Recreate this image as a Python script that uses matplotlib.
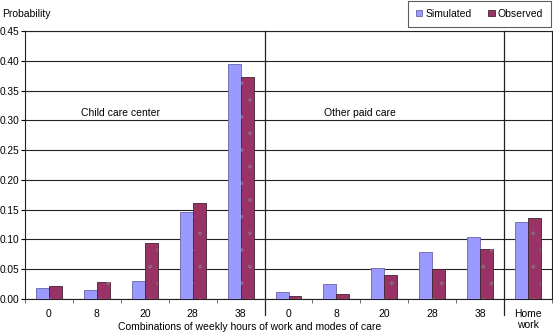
import matplotlib
matplotlib.use("Agg")
import matplotlib.pyplot as plt
import numpy as np

plt.rcParams['font.family'] = ['Liberation Sans', 'DejaVu Sans']
plt.rcParams['hatch.linewidth'] = 0.3

categories = ["0", "8", "20", "28", "38", "0", "8", "20", "28", "38", "Home\nwork"]
simulated = [0.018, 0.015, 0.030, 0.146, 0.394, 0.012, 0.025, 0.052, 0.079, 0.104, 0.129]
observed = [0.021, 0.028, 0.094, 0.162, 0.373, 0.005, 0.008, 0.041, 0.050, 0.084, 0.136]
yticks = [0.00, 0.05, 0.10, 0.15, 0.20, 0.25, 0.30, 0.35, 0.40, 0.45]

fig = plt.figure(figsize=(5.53, 3.36), dpi=100)
ax = fig.add_axes([25/553, 1-299/336, 527/553, (299-31)/336])

x = np.arange(len(categories))
w = 0.27
sim_c = '#9999FF'
obs_c = '#993366'
ax.bar(x - w/2, simulated, w, color=sim_c, edgecolor='#6666aa', linewidth=0.6, zorder=3, label='Simulated')
ax.bar(x + w/2, observed, w, color=obs_c, edgecolor='#442233', linewidth=0.6, zorder=3, label='Observed')
ax.bar(x + w/2, observed, w, facecolor='none', edgecolor='#8a6680', linewidth=0, hatch='.', zorder=3.5)

ax.set_xlim(-0.5, len(categories) - 0.5)
ax.set_ylim(0, 0.45)
ax.set_yticks(yticks)
ax.set_yticklabels([f"{v:.2f}" for v in yticks])
ax.yaxis.grid(True, color='#222222', linewidth=0.8, zorder=0)
ax.set_axisbelow(True)

ax.set_xticks(x)
ax.set_xticklabels(categories)
ax.set_xticks(np.arange(-0.5, len(categories) + 0.5, 1), minor=True)
ax.tick_params(axis='x', which='major', length=0, pad=7, labelsize=7.5)
ax.tick_params(axis='x', which='minor', length=3, width=0.6, color='#555555')
ax.tick_params(axis='y', length=3, width=0.8, labelsize=7.3, pad=1)

for s in ax.spines.values():
    s.set_color('#222222')
    s.set_linewidth(0.8)

# separators
for sx in [4.5, 9.5]:
    ax.plot([sx, sx], [-0.027, 0.45], color='#222222', linewidth=0.9, clip_on=False, zorder=4)

ax.text(1.5, 0.313, "Child care center", fontsize=7.5, ha='center', va='center')
ax.text(6.5, 0.313, "Other paid care", fontsize=7.5, ha='center', va='center')

fig.text(2/553, 1-14/336, "Probability", fontsize=7.5, ha='left', va='center')
fig.text(250/553, 1-327/336, "Combinations of weekly hours of work and modes of care",
         fontsize=7.5, ha='center', va='center')

leg = fig.legend(loc='upper right', bbox_to_anchor=(551/553, 1-1/336), ncol=2,
                 fontsize=7.5, frameon=True, fancybox=False, handlelength=0.6, handleheight=0.6,
                 handletextpad=0.3, columnspacing=1.6, borderpad=0.75, borderaxespad=0)
leg.get_frame().set_edgecolor('#333333')
leg.get_frame().set_linewidth(0.8)

fig.savefig("out.png", dpi=100)
